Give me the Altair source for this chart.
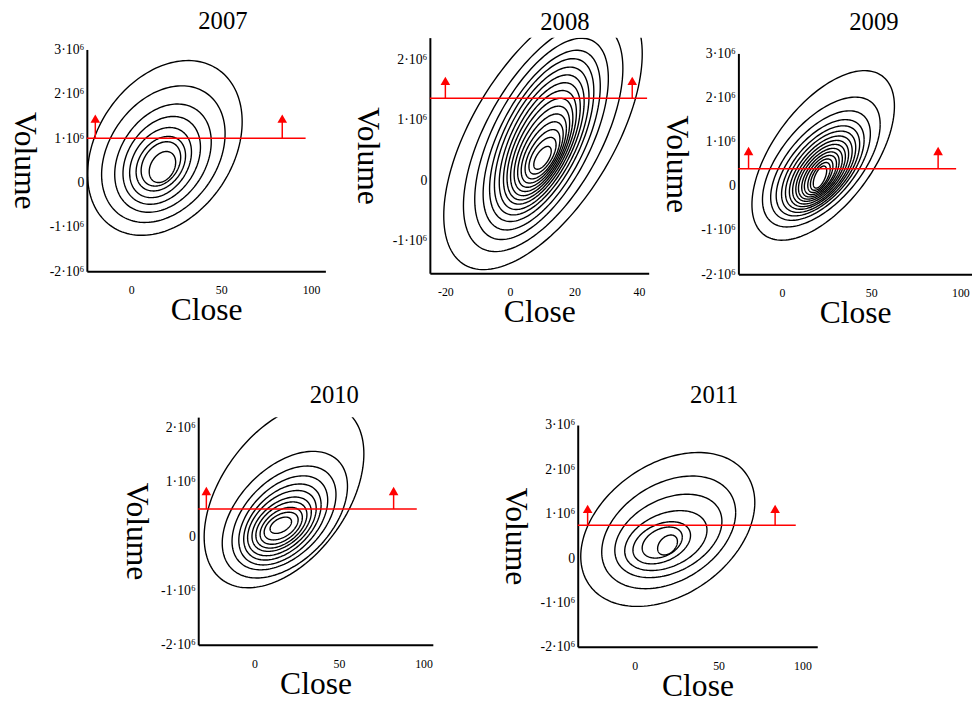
import numpy as np
import pandas as pd
import altair as alt

SERIF = "Liberation Serif"

# ---------------- data ----------------
# Contours: bounding box of every contour line (Close lo/hi, Volume lo/hi in 10^6), outer -> inner
c07_xlo = [-24.3, -16.5, -9.2, -4.6, -0.9, 2.7, 5.5, 10.0]
c07_xhi = [61.7, 52.2, 44.5, 38.5, 33.5, 30.2, 27.5, 24.7]
c07_ylo = [-1.19, -0.90, -0.67, -0.49, -0.34, -0.19, -0.08, 0.00]
c07_yhi = [2.75, 2.18, 1.77, 1.49, 1.24, 1.04, 0.92, 0.70]
rho07 = 0.3

c08_xlo = [-20.5, -14.4, -10.9, -8.3, -6.3, -4.8, -3.3, -2.0, -0.9, 0.2, 1.3, 2.4, 3.5, 4.7, 5.9, 7.4]
c08_xhi = [41.0, 35.0, 30.5, 28.0, 26.0, 24.5, 23.0, 21.8, 20.6, 19.5, 18.5, 17.5, 16.5, 15.5, 14.3, 12.8]
c08_ylo = [-1.49, -1.19, -0.99, -0.83, -0.69, -0.58, -0.49, -0.40, -0.33, -0.26, -0.19, -0.12, -0.05, 0.02, 0.10, 0.18]
c08_yhi = [3.00, 2.62, 2.36, 2.16, 2.02, 1.88, 1.75, 1.62, 1.49, 1.36, 1.23, 1.10, 0.97, 0.84, 0.71, 0.56]
rho08 = 0.6

c09_xlo = [-16.9, -11.0, -6.4, -3.3, -0.3, 1.9, 4.1, 5.9, 7.7, 9.2, 11.0, 12.5, 14.4, 15.9, 17.5]
c09_xhi = [63.0, 55.0, 49.5, 46.0, 43.5, 41.3, 39.3, 37.3, 35.5, 33.8, 32.0, 30.5, 28.5, 27.0, 25.0]
c09_ylo = [-1.23, -0.93, -0.78, -0.68, -0.60, -0.53, -0.47, -0.41, -0.35, -0.30, -0.25, -0.20, -0.15, -0.10, -0.05]
c09_yhi = [2.61, 2.01, 1.70, 1.50, 1.36, 1.24, 1.13, 1.03, 0.94, 0.85, 0.77, 0.69, 0.61, 0.53, 0.45]
rho09 = 0.58

c10_xlo = [-29.8, -19.1, -13.3, -9.3, -6.4, -4.1, -1.5, 0.8, 3.3, 5.7, 9.2]
c10_xhi = [64.7, 55.0, 48.2, 43.3, 39.4, 36.5, 33.6, 31.0, 28.3, 25.8, 21.9]
c10_ylo = [-0.95, -0.77, -0.62, -0.53, -0.44, -0.36, -0.28, -0.22, -0.15, -0.07, 0.05]
c10_yhi = [2.45, 1.56, 1.29, 1.11, 0.96, 0.84, 0.72, 0.63, 0.53, 0.44, 0.35]
rho10 = 0.45

c11_xlo = [-32.1, -19.6, -11.8, -5.9, -1.0, 4.5, 13.7]
c11_xhi = [71.6, 60.2, 52.0, 43.1, 33.3, 28.4, 25.5]
c11_ylo = [-1.09, -0.69, -0.44, -0.28, -0.13, 0.00, 0.07]
c11_yhi = [2.38, 1.85, 1.44, 1.07, 0.82, 0.70, 0.52]
rho11 = 0.35

# Red threshold line (Volume level, 10^6), its right end, arrow positions and arrow-head level
lim_level = {"2007": 1.00, "2008": 1.36, "2009": 0.39, "2010": 0.50, "2011": 0.74}
lim_xend = {"2007": 97.0, "2008": 42.5, "2009": 97.6, "2010": 96.0, "2011": 96.0}
arrow_x = {"2007": [-20.0, 84.0], "2008": [-20.0, 37.9], "2009": [-18.8, 87.5],
           "2010": [-28.5, 82.3], "2011": [-28.0, 83.7]}
arrow_head = {"2007": 1.44, "2008": 1.65, "2009": 0.79, "2010": 0.83, "2011": 1.11}

# Axes
x_domain = {"2007": [-24.7, 108.0], "2008": [-24.8, 43.0], "2009": [-24.5, 106.5],
            "2010": [-33.3, 105.5], "2011": [-33.9, 108.8]}
y_domain = {"2007": [-2.0, 3.0], "2008": [-1.55, 2.37], "2009": [-2.0, 3.0],
            "2010": [-2.0, 2.19], "2011": [-2.0, 3.0]}
x_ticks = {"2007": [0, 50, 100], "2008": [-20, 0, 20, 40], "2009": [0, 50, 100],
           "2010": [0, 50, 100], "2011": [0, 50, 100]}
y_ticks = {"2007": [-2, -1, 0, 1, 2, 3], "2008": [-1, 0, 1, 2], "2009": [-2, -1, 0, 1, 2, 3],
           "2010": [-2, -1, 0, 1, 2], "2011": [-2, -1, 0, 1, 2, 3]}

# ---------------- layout ----------------
panel_size = {"2007": (242, 225), "2008": (222, 239), "2009": (237, 224),
              "2010": (238, 231), "2011": (243, 225)}
title_dx = {"2007": 17, "2008": 26, "2009": 19, "2010": 19, "2011": 17}
title_off = {"2007": 9, "2008": 3, "2009": 12, "2010": 9, "2011": 10}
col_gap = {"2007": 0, "2008": 1, "2009": 1, "2010": 0, "2011": 0}

contours = {
    "2007": (c07_xlo, c07_xhi, c07_ylo, c07_yhi, rho07),
    "2008": (c08_xlo, c08_xhi, c08_ylo, c08_yhi, rho08),
    "2009": (c09_xlo, c09_xhi, c09_ylo, c09_yhi, rho09),
    "2010": (c10_xlo, c10_xhi, c10_ylo, c10_yhi, rho10),
    "2011": (c11_xlo, c11_xhi, c11_ylo, c11_yhi, rho11),
}


def contour_frame(xlo, xhi, ylo, yhi, rho):
    t = np.linspace(0, 2 * np.pi, 161)
    s = np.sqrt(1 - rho ** 2)
    frames = []
    for k in range(len(xlo)):
        cx, a = (xlo[k] + xhi[k]) / 2, (xhi[k] - xlo[k]) / 2
        cy, b = (ylo[k] + yhi[k]) / 2, (yhi[k] - ylo[k]) / 2
        frames.append(pd.DataFrame({
            "x": cx + a * np.cos(t),
            "y": cy + b * (rho * np.cos(t) + s * np.sin(t)),
            "k": k, "i": np.arange(len(t))}))
    return pd.concat(frames, ignore_index=True)


def panel(year):
    xs = alt.Scale(domain=x_domain[year], nice=False, zero=False)
    ys = alt.Scale(domain=y_domain[year], nice=False, zero=False)
    xaxis = alt.Axis(values=x_ticks[year], title="Close", grid=False, ticks=False,
                     labelExpr="'' + datum.value", labelFont=SERIF, labelFontSize=12,
                     labelColor="black", labelPadding=14, labelFlush=False,
                     titleFont=SERIF, titleFontSize=32, titleFontWeight="normal",
                     titleColor="black", titlePadding=-1,
                     domainColor="black", domainWidth=2)
    yaxis = alt.Axis(values=y_ticks[year], title="Volume", grid=False, ticks=False,
                     labelExpr="datum.value == 0 ? '0' : datum.value + '·10⁶'",
                     labelFont=SERIF, labelFontSize=14, labelColor="black",
                     labelPadding=3, labelFlush=False,
                     titleFont=SERIF, titleFontSize=32, titleFontWeight="normal",
                     titleColor="black", titleAngle=90, titleBaseline="top",
                     titlePadding=10, domainColor="black", domainWidth=2)
    cdf = contour_frame(*contours[year])
    lines = alt.Chart(cdf).mark_line(color="black", strokeWidth=1.4, clip=True).encode(
        x=alt.X("x:Q", scale=xs, axis=xaxis),
        y=alt.Y("y:Q", scale=ys, axis=yaxis),
        detail="k:N", order="i:Q")
    hdf = pd.DataFrame({"x0": [x_domain[year][0]], "x1": [lim_xend[year]], "y": [lim_level[year]]})
    hline = alt.Chart(hdf).mark_rule(color="#ff0000", strokeWidth=1.5).encode(
        x=alt.X("x0:Q", scale=xs), x2="x1:Q", y=alt.Y("y:Q", scale=ys))
    adf = pd.DataFrame({"x": arrow_x[year], "y0": [lim_level[year]] * 2,
                        "y1": [arrow_head[year]] * 2})
    stems = alt.Chart(adf).mark_rule(color="#ff0000", strokeWidth=1.5).encode(
        x=alt.X("x:Q", scale=xs), y=alt.Y("y0:Q", scale=ys), y2="y1:Q")
    heads = alt.Chart(adf).mark_point(shape="triangle-up", filled=True, color="#ff0000",
                                      opacity=1, size=95).encode(
        x=alt.X("x:Q", scale=xs), y=alt.Y("y1:Q", scale=ys))
    w, h = panel_size[year]
    return alt.layer(lines, hline, stems, heads).properties(
        width=w, height=h,
        title=alt.TitleParams(year, font=SERIF, fontSize=25, fontWeight="normal",
                              color="black", dx=title_dx[year], offset=title_off[year],
                              anchor="middle", frame="group"))


def spacer(w, h):
    return alt.Chart(pd.DataFrame({"a": [0]})).mark_rect(opacity=0).encode(
        x=alt.value(0), x2=alt.value(w), y=alt.value(0), y2=alt.value(h)
    ).properties(width=w, height=h)


def column(year):
    return alt.vconcat(spacer(1, 1), panel(year), spacing=col_gap[year])


top = alt.hconcat(alt.hconcat(column("2007"), column("2008"), spacing=26),
                  column("2009"), spacing=11)
bottom = alt.hconcat(spacer(33, 1),
                     alt.hconcat(column("2010"), column("2011"), spacing=67),
                     spacing=0)
chart = alt.vconcat(top, bottom, spacing=55).configure_view(stroke=None).properties(
    padding={"left": 0, "top": -5, "right": 0, "bottom": 0})

chart.save("out.html", embed_options={"renderer": "svg", "actions": False})
